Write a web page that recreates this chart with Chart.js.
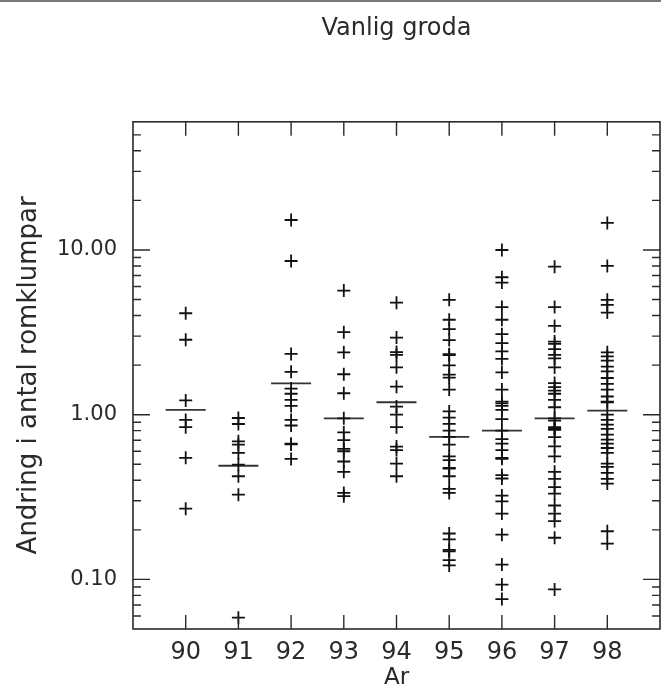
<!DOCTYPE html>
<html>
<head>
<meta charset="utf-8">
<script src="https://cdn.jsdelivr.net/npm/chart.js@4/dist/chart.umd.min.js"></script>
<style>
  html, body { margin: 0; padding: 0; background: #fff; }
  canvas { display: block; }
</style>
</head>
<body>
<canvas id="c" width="661" height="690"></canvas>
<script>
// ---- data ----
const years = [90, 91, 92, 93, 94, 95, 96, 97, 98];
const v90 = [4.13, 2.85, 1.22, 0.93, 0.84, 0.547, 0.269];
const v91 = [0.955, 0.878, 0.689, 0.658, 0.586, 0.498, 0.423, 0.327, 0.0586];
const v92 = [15.2, 8.57, 2.34, 1.82, 1.44, 1.34, 1.23, 1.13, 0.93, 0.86, 0.667, 0.66, 0.539];
const v93 = [5.67, 3.17, 2.39, 1.76, 1.35, 0.95, 0.78, 0.70, 0.62, 0.60, 0.52, 0.45, 0.335, 0.32];
const v94 = [4.79, 2.94, 2.40, 2.31, 1.94, 1.48, 1.12, 1.0, 0.84, 0.64, 0.61, 0.505, 0.423];
const v95 = [4.98, 3.77, 3.31, 2.84, 2.33, 2.30, 1.99, 1.75, 1.68, 1.42, 1.047, 0.96, 0.88, 0.80, 0.733, 0.658, 0.559, 0.53, 0.475, 0.47, 0.423, 0.355, 0.335, 0.19, 0.175, 0.151, 0.148, 0.131, 0.1216];
const v96 = [10.0, 6.83, 6.34, 4.5, 3.77, 3.08, 2.72, 2.42, 2.18, 1.805, 1.42, 1.20, 1.17, 1.13, 1.07, 0.94, 0.80, 0.71, 0.667, 0.61, 0.546, 0.54, 0.43, 0.41, 0.323, 0.298, 0.251, 0.187, 0.123, 0.093, 0.076];
const v97 = [7.92, 4.5, 3.46, 2.78, 2.69, 2.50, 2.31, 2.20, 1.935, 1.556, 1.47, 1.40, 1.34, 1.23, 1.11, 0.95, 0.92, 0.84, 0.82, 0.81, 0.73, 0.643, 0.559, 0.45, 0.408, 0.363, 0.332, 0.281, 0.251, 0.226, 0.179, 0.087];
const v98 = [14.6, 8.0, 4.98, 4.64, 4.17, 2.39, 2.26, 2.13, 1.96, 1.83, 1.67, 1.54, 1.42, 1.29, 1.20, 1.19, 1.0, 0.93, 0.87, 0.82, 0.757, 0.705, 0.667, 0.628, 0.586, 0.505, 0.482, 0.443, 0.408, 0.382, 0.196, 0.165];
const centerLines = [1.07, 0.49, 1.55, 0.95, 1.19, 0.733, 0.80, 0.95, 1.06];

const yMajorTicks = [0.1, 1, 10];
const yMinorTicks = [0.06, 0.07, 0.08, 0.09, 0.2, 0.3, 0.4, 0.5, 0.6, 0.7, 0.8, 0.9, 2, 3, 4, 5, 6, 7, 8, 9, 20, 30, 40, 50];

const titleText = 'Vanlig groda';
const yTitle = 'Andring i antal romklumpar';
const xTitle = 'Ar';

// ---- build datasets ----
const perYear = [v90, v91, v92, v93, v94, v95, v96, v97, v98];
const points = [];
perYear.forEach((arr, i) => arr.forEach(v => points.push({ x: years[i], y: v })));
const linePts = years.map((yr, i) => ({ x: yr, y: centerLines[i] }));

const FONT = "'DejaVu Sans', sans-serif";
const INK = '#2a2a2a';

const frameTicks = {
  id: 'frameTicks',
  beforeDraw(chart) {
    const ctx = chart.ctx;
    ctx.save();
    ctx.fillStyle = '#fff';
    ctx.fillRect(0, 0, chart.width, chart.height);
    ctx.strokeStyle = '#777';
    ctx.lineWidth = 2;
    ctx.beginPath();
    ctx.moveTo(0, 1);
    ctx.lineTo(chart.width, 1);
    ctx.stroke();
    ctx.restore();
  },
  afterDraw(chart) {
    const ctx = chart.ctx;
    const { left, right, top, bottom } = chart.chartArea;
    const xs = chart.scales.x, ys = chart.scales.y;
    ctx.save();
    ctx.strokeStyle = INK;
    ctx.lineWidth = 1.6;
    ctx.strokeRect(left, top, right - left, bottom - top);
    ctx.lineWidth = 1.4;
    ctx.beginPath();
    const drawY = (v, len) => {
      const py = ys.getPixelForValue(v);
      ctx.moveTo(left, py); ctx.lineTo(left + len, py);
      ctx.moveTo(right, py); ctx.lineTo(right - len, py);
    };
    yMajorTicks.forEach(v => drawY(v, 17));
    yMinorTicks.forEach(v => drawY(v, 8));
    years.forEach(yr => {
      const px = xs.getPixelForValue(yr);
      ctx.moveTo(px, bottom); ctx.lineTo(px, bottom - 14);
      ctx.moveTo(px, top); ctx.lineTo(px, top + 14);
    });
    ctx.stroke();
    ctx.restore();
  }
};

new Chart(document.getElementById('c'), {
  type: 'scatter',
  data: {
    datasets: [
      {
        data: points,
        pointStyle: 'cross',
        pointRadius: 6.5,
        pointBorderWidth: 1.8,
        borderColor: '#111',
        backgroundColor: '#111'
      },
      {
        data: linePts,
        pointStyle: 'line',
        pointRadius: 20,
        pointBorderWidth: 1.8,
        borderColor: '#333',
        backgroundColor: '#333'
      }
    ]
  },
  plugins: [frameTicks],
  options: {
    responsive: false,
    animation: false,
    events: [],
    layout: { autoPadding: false, padding: { left: 0, right: 1, top: 0, bottom: 0 } },
    plugins: {
      legend: { display: false },
      tooltip: { enabled: false },
      title: {
        display: true,
        text: titleText,
        fullSize: false,
        color: INK,
        font: { family: FONT, size: 24, weight: 'normal', lineHeight: 1.2 },
        padding: { top: 14, bottom: 79 }
      }
    },
    scales: {
      x: {
        type: 'linear',
        min: 89,
        max: 99,
        afterFit(s) { s.height = 61; s.paddingLeft = 0; s.paddingRight = 0; },
        afterBuildTicks(s) { s.ticks = years.map(v => ({ value: v })); },
        grid: { display: false, drawTicks: false },
        border: { display: false },
        ticks: {
          autoSkip: false,
          maxRotation: 0,
          padding: 9,
          color: INK,
          font: { family: FONT, size: 24 },
          callback: v => String(v)
        },
        title: {
          display: true,
          text: xTitle,
          color: INK,
          font: { family: FONT, size: 23, lineHeight: 1.0 },
          padding: { top: 0, bottom: 0 }
        }
      },
      y: {
        type: 'logarithmic',
        min: 0.05,
        max: 60,
        afterFit(s) { s.width = 133; s.paddingTop = 0; s.paddingBottom = 0; },
        afterBuildTicks(s) {
          s.ticks = yMajorTicks.map(v => ({ value: v, major: true }));
        },
        grid: { display: false, drawTicks: false },
        border: { display: false },
        ticks: {
          autoSkip: false,
          padding: 16,
          color: INK,
          font: { family: FONT, size: 21 },
          callback: v => Number(v).toFixed(2)
        },
        title: {
          display: true,
          text: yTitle,
          color: INK,
          font: { family: FONT, size: 26, lineHeight: 1.2 },
          padding: { top: 14, bottom: 0 }
        }
      }
    }
  }
});
</script>
</body>
</html>
